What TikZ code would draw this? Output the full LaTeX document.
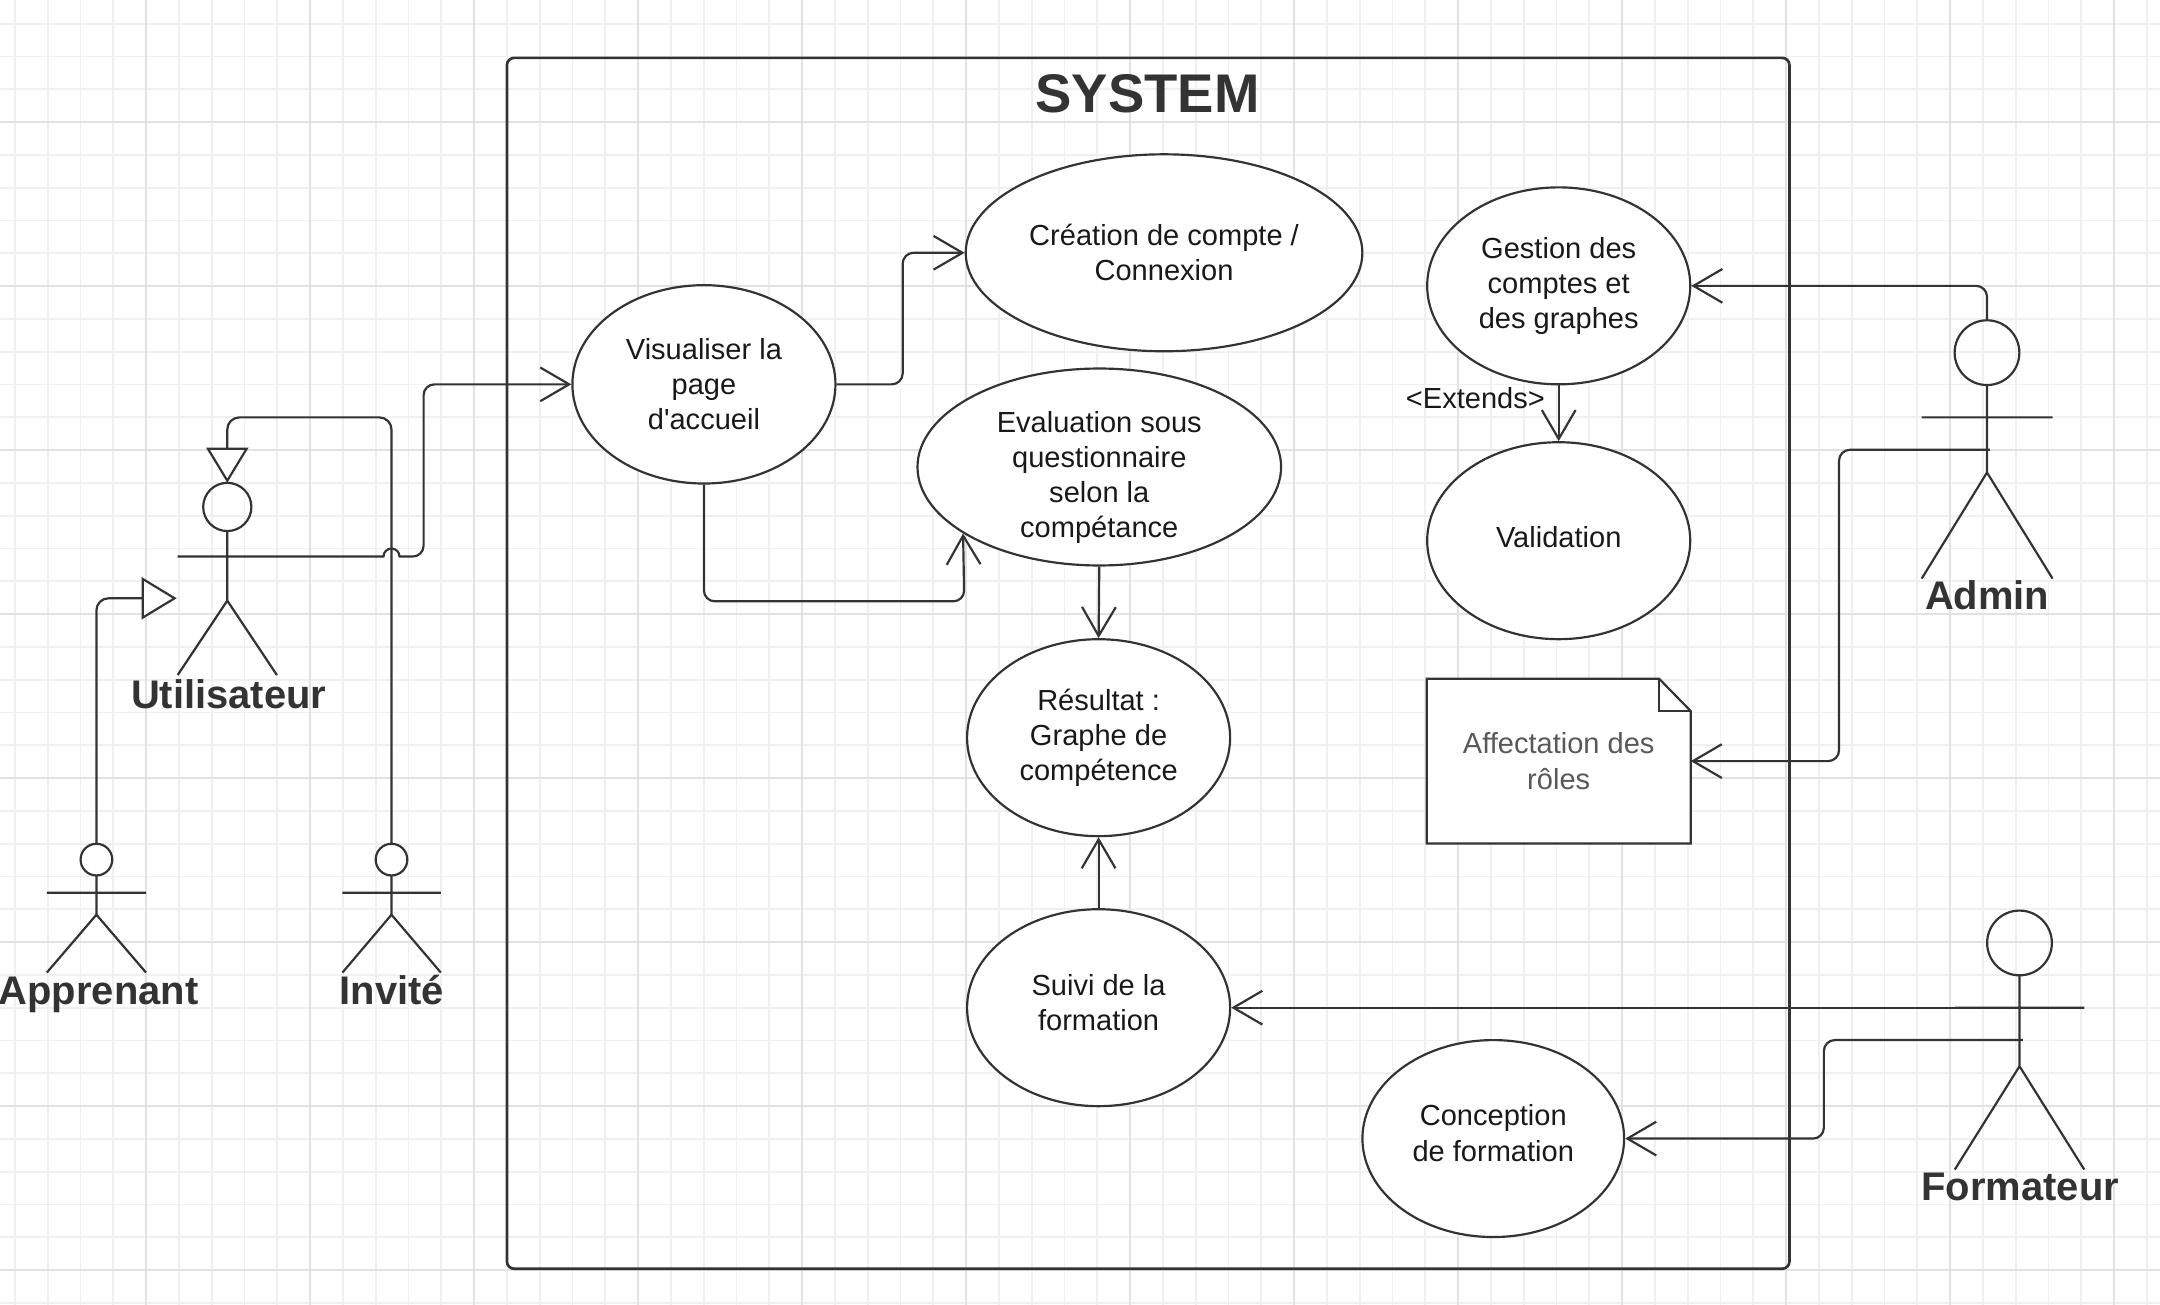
\documentclass[tikz,border=0pt]{standalone}
\usepackage{fontspec}
\setmainfont{Liberation Sans}
\usetikzlibrary{shapes.geometric,arrows.meta}
\definecolor{linegray}{HTML}{333333}
\definecolor{gridlight}{HTML}{F0F0F0}
\definecolor{griddark}{HTML}{E2E2E2}

\begin{document}
\begin{tikzpicture}[x=0.02cm,y=-0.02cm,
	usecase/.style={ellipse,draw=linegray,fill=white,line width=0.9pt,inner sep=0pt,align=center,text=black!90,font=\fontsize{12}{14.5}\selectfont},
	actorname/.style={anchor=base,text=linegray,font=\fontsize{16.5}{19}\selectfont\bfseries},
	stick/.style={draw=linegray,line width=0.9pt},
	assoc/.style={draw=linegray,line width=0.9pt,rounded corners=4.5pt,-{Straight Barb[length=0.42cm,width=0.49cm]}},
	gener/.style={draw=linegray,line width=0.9pt,rounded corners=5pt,-{Triangle[length=0.51cm,width=0.61cm,fill=white]}}]
	\useasboundingbox (0,0) rectangle (1568,947);
	%========
	%Grid
	%========
	\foreach \k in {0,...,65} \draw[gridlight,line width=0.8pt] ({10.8+23.81*\k},0) -- ({10.8+23.81*\k},947);
	\foreach \k in {0,...,39} \draw[gridlight,line width=0.8pt] (0,{17.2+23.81*\k}) -- (1568,{17.2+23.81*\k});
	\foreach \k in {0,...,12} \draw[griddark,line width=0.8pt] ({106.04+119.05*\k},0) -- ({106.04+119.05*\k},947);	%major
	\foreach \k in {0,...,7} \draw[griddark,line width=0.8pt] (0,{88.63+119.05*\k}) -- (1568,{88.63+119.05*\k});	%major

	%========
	%System
	%========
	\draw[linegray,line width=1.1pt,rounded corners=3pt] (368,42) rectangle (1299,921);
	\node[anchor=base,text=linegray,font=\fontsize{22.5}{27}\selectfont\bfseries] (systitle) at (833,81.8) {SYSTEM};

	\node[usecase,minimum width=3.82cm,minimum height=2.88cm] (visu) at (511,279) {Visualiser la\\page\\d\textquotesingle accueil};
	\node[usecase,minimum width=5.76cm,minimum height=2.86cm,inner xsep=-2pt] (crea) at (845,183.5) {Création de compte /\\Connexion};
	\node[usecase,minimum width=5.28cm,minimum height=2.86cm,inner ysep=-4.5pt] (eval) at (798,339) {\rule{0pt}{17.6pt}Evaluation sous\\questionnaire\\selon la\\compétance};
	\node[usecase,minimum width=3.82cm,minimum height=2.86cm] (res) at (797.5,535.5) {Résultat :\\Graphe de\\compétence};
	\node[usecase,minimum width=3.82cm,minimum height=2.86cm] (suivi) at (797.5,731.5) {Suivi de la\\formation\rule[-4.6pt]{0pt}{4.6pt}};
	\node[usecase,minimum width=3.80cm,minimum height=2.86cm] (conc) at (1084,826.5) {Conception\\de formation\rule[-4.6pt]{0pt}{4.6pt}};
	\node[usecase,minimum width=3.82cm,minimum height=2.86cm] (gest) at (1131.5,207.5) {Gestion des\\comptes et\\des graphes};
	\node[usecase,minimum width=3.82cm,minimum height=2.86cm] (valid) at (1131.5,392.5) {Validation\rule[-3.4pt]{0pt}{3.4pt}};

	%note
	\node[minimum width=3.82cm,minimum height=2.38cm,inner sep=0pt] (affect) at (1131.5,552.5) {};
	\draw[linegray,fill=white,line width=0.9pt] (affect.south west) -- (affect.north west) -- ([xshift=-0.46cm]affect.north east) -- ([yshift=-0.47cm]affect.north east) -- (affect.south east) -- cycle;
	\draw[linegray,line width=0.9pt] ([xshift=-0.46cm]affect.north east) -- ([xshift=-0.46cm,yshift=-0.47cm]affect.north east) -- ([yshift=-0.47cm]affect.north east);
	\node[align=center,text=black!65,font=\fontsize{12}{14.5}\selectfont] (affecttext) at (affect.center) {Affectation des\\rôles};

	%========
	%Actors
	%========
	\draw[stick] (165,368) circle (17.5);	%Utilisateur
	\draw[stick] (165,385.5) -- (165,436) (129,404) -- (201,404) (129,490) -- (165,436) -- (201,490);
	\coordinate (userhead) at (165,350.5);
	\coordinate (userarm) at (201,404);
	\coordinate (userside) at (128.3,434.3);
	\node[actorname] (userlbl) at (166,514) {Utilisateur};

	\draw[stick] (70,624) circle (11.5);	%Apprenant
	\draw[stick] (70,635.5) -- (70,664) (34,648) -- (106,648) (34,706) -- (70,664) -- (106,706);
	\coordinate (apprhead) at (70,612.5);
	\node[actorname] (apprlbl) at (71.5,729) {Apprenant};

	\draw[stick] (284.2,624) circle (11.5);	%Invite
	\draw[stick] (284.2,635.5) -- (284.2,664) (248.6,648) -- (320,648) (248.6,706) -- (284.2,664) -- (320,706);
	\coordinate (invitehead) at (284.2,612.5);
	\node[actorname] (invitelbl) at (284.5,729) {Invité};

	\draw[stick] (1442.4,256) circle (23.5);	%Admin
	\draw[stick] (1442.4,279.5) -- (1442.4,343) (1395,303) -- (1490,303) (1395,420) -- (1442.4,343) -- (1490,420);
	\coordinate (adminhead) at (1442.4,232.5);
	\coordinate (adminbody) at (1444.5,326.5);
	\node[actorname] (adminlbl) at (1442.5,442.6) {Admin};

	\draw[stick] (1466,684.5) circle (23.5);	%Formateur
	\draw[stick] (1466,708) -- (1466,774) (1419,731.5) -- (1513,731.5) (1419,849) -- (1466,774) -- (1513,849);
	\coordinate (formarm) at (1466,731.5);
	\coordinate (formbody) at (1468.5,755);
	\node[actorname] (formlbl) at (1466.5,871.3) {Formateur};

	%========
	%Links
	%========
	\draw[gener] (invitehead) -- (284.2,303) -| (userhead);
	\draw[gener] (apprhead) |- (userside);

	\draw[assoc,sharp corners] (userarm) -- (278.4,404) arc (180:360:5.8) [rounded corners=4.5pt] -- (307.5,404) |- (visu.west);
	\draw[assoc] (visu.east) -- ++(48,0) |- (crea.west);
	\draw[assoc] (visu.south) |- (700,436.5) -- (eval.206);
	\draw[assoc] (eval.south) -- (res.north);
	\draw[assoc] (suivi.north) -- (res.south);
	\draw[assoc] (gest.south) -- (valid.north);
	\node[text=black!90,font=\fontsize{12}{14.5}\selectfont] (extlbl) at (1071,289) {<Extends>};

	\draw[assoc] (adminhead) |- (gest.east);
	\draw[assoc] (adminbody) -- (1335,326.5) |- (affect.east);
	\draw[assoc] (formarm) -- (suivi.east);
	\draw[assoc] (formbody) -- (1324,755) |- (conc.east);
\end{tikzpicture}
\end{document}
